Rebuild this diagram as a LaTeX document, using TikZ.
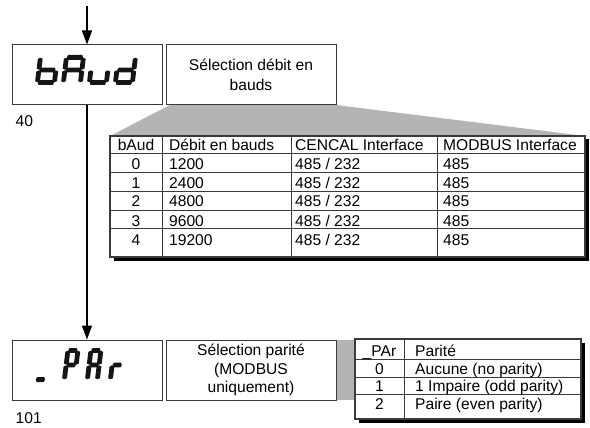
\documentclass[tikz,border=0pt]{standalone}
\usepackage{fontspec}
\setmainfont{Liberation Sans}
\usetikzlibrary{arrows.meta}
\definecolor{linegray}{HTML}{3A3A3A}
\definecolor{fillgray}{HTML}{B4B4B4}
\definecolor{segcol}{HTML}{151515}
% seven-segment parameters: width, height, thickness, gap, tip depth, slant, origin
\def\segW{17}\def\segH{25.2}\def\segT{4.8}\def\segGap{0.35}\def\segK{1.1}\def\segS{0.12}
\def\gx{0}\def\gy{0}
% horizontal segment from x1 to x2 at height u (u measured upwards from the glyph origin)
\newcommand{\hseg}[3]{\fill[segcol]
 ({\gx+(#1)+\segGap+\segS*(#3)},{\gy-(#3)}) --
 ({\gx+(#1)+\segGap+\segK+\segS*((#3)+\segT/2)},{\gy-(#3)-\segT/2}) --
 ({\gx+(#2)-\segGap-\segK+\segS*((#3)+\segT/2)},{\gy-(#3)-\segT/2}) --
 ({\gx+(#2)-\segGap+\segS*(#3)},{\gy-(#3)}) --
 ({\gx+(#2)-\segGap-\segK+\segS*((#3)-\segT/2)},{\gy-(#3)+\segT/2}) --
 ({\gx+(#1)+\segGap+\segK+\segS*((#3)-\segT/2)},{\gy-(#3)+\segT/2}) -- cycle;}
% vertical segment at x from u1 to u2
\newcommand{\vseg}[3]{\fill[segcol]
 ({\gx+(#1)+\segS*((#2)+\segGap)},{\gy-(#2)-\segGap}) --
 ({\gx+(#1)+\segT/2+\segS*((#2)+\segGap+\segK)},{\gy-(#2)-\segGap-\segK}) --
 ({\gx+(#1)+\segT/2+\segS*((#3)-\segGap-\segK)},{\gy-(#3)+\segGap+\segK}) --
 ({\gx+(#1)+\segS*((#3)-\segGap)},{\gy-(#3)+\segGap}) --
 ({\gx+(#1)-\segT/2+\segS*((#3)-\segGap-\segK)},{\gy-(#3)+\segGap+\segK}) --
 ({\gx+(#1)-\segT/2+\segS*((#2)+\segGap+\segK)},{\gy-(#2)-\segGap-\segK}) -- cycle;}
\newcommand\segA{\hseg{0}{\segW}{\segH}}
\newcommand\segB{\vseg{\segW}{\segH/2}{\segH}}
\newcommand\segC{\vseg{\segW}{0}{\segH/2}}
\newcommand\segD{\hseg{0}{\segW}{0}}
\newcommand\segE{\vseg{0}{0}{\segH/2}}
\newcommand\segF{\vseg{0}{\segH/2}{\segH}}
\newcommand\segG{\hseg{0}{\segW}{\segH/2}}
\newcommand\glyphB{\segC\segD\segE\segF\segG}
\newcommand\glyphA{\segA\segB\segC\segE\segF\segG}
\newcommand\glyphU{\segC\segD\segE}
\newcommand\glyphD{\segB\segC\segD\segE\segG}
\newcommand\glyphUnd{\segD}
\newcommand\glyphP{\segA\segB\segE\segF\segG}
\newcommand\glyphR{\segE\segG}
\newcommand\sevenseg[3]{\def\gx{#1}\def\gy{#2}#3}
\begin{document}
\begin{tikzpicture}[x=1pt,y=-1pt,
  tx/.style={font=\fontsize{15.6}{18.7}\selectfont, inner sep=0pt},
  dispbox/.style={draw=linegray, line width=1pt, fill=white, inner sep=0pt, minimum width=150pt, minimum height=60pt},
  descbox/.style={draw=linegray, line width=1pt, fill=white, inner sep=0pt, minimum width=170pt, minimum height=60pt, align=center},
  flow/.style={line width=1.4pt, black, -{Triangle[length=14pt,width=10pt]}},
  tabframe/.style={draw=linegray, line width=1.1pt, fill=white},
  tabline/.style={draw=linegray, line width=0.9pt},
  shadowfill/.style={fill=black}]
\useasboundingbox (0,0) rectangle (590,428);
% gray connector shapes
\fill[fillgray] (170,105) -- (110,136) -- (585,136) -- (336,105) -- cycle;
\fill[fillgray] (336,340) rectangle (355,400);
% boxes
\node[dispbox] (disp1) at (87,75) {};
\node[descbox, font=\fontsize{15.6}{20}\selectfont] (desc1) at (251,75) {Sélection débit en\\bauds};
\node[dispbox] (disp2) at (87,370) {};
\node[descbox, font=\fontsize{15.6}{18.5}\selectfont] (desc2) at (251,370) {Sélection parité\\(MODBUS\\uniquement)};
% arrows
\coordinate (start) at (87,6);
\draw[flow] (start) -- (disp1.north);
\draw[flow] (disp1.south) -- (disp2.north);
% seven segment displays
\sevenseg{37.4}{82.6}{\glyphB}
\sevenseg{63.4}{82.6}{\glyphA}
\sevenseg{89.4}{82.6}{\glyphU}
\sevenseg{115.4}{82.6}{\glyphD}
\def\segW{10}\def\segH{29.2}
\sevenseg{35.4}{379.6}{\glyphUnd}
\sevenseg{64.4}{379.6}{\glyphP}
\sevenseg{87.4}{379.6}{\glyphA}
\sevenseg{110.4}{379.6}{\glyphR}
% labels
\node[tx, anchor=base west] (lab40) at (15.5,126.5) {40};
\node[tx, anchor=base west] (lab101) at (15.5,423.5) {101};
% table 1
\fill[shadowfill] (113.5,139.5) rectangle (588.5,260.5);
\path[tabframe] (110,136) rectangle (585,257);
\foreach \xx in {162,291,437} \draw[tabline] (\xx,136) -- (\xx,257);
\foreach \yy in {153,172,191,210,228} \draw[tabline] (110,\yy) -- (585,\yy);
\node[tx, anchor=base] (h1) at (136,150) {bAud};
\node[tx, anchor=base west] (h2) at (169,150) {Débit en bauds};
\node[tx, anchor=base west] (h3) at (295,150) {CENCAL Interface};
\node[tx, anchor=base west] (h4) at (443,150) {MODBUS Interface};
\foreach \n/\rate/\yy in {0/1200/169,1/2400/188,2/4800/207,3/9600/226,4/19200/245}{
  \node[tx, anchor=base] (ra\n) at (136,\yy) {\n};
  \node[tx, anchor=base west] (rb\n) at (169,\yy) {\rate};
  \node[tx, anchor=base west] (rc\n) at (295,\yy) {485 / 232};
  \node[tx, anchor=base west] (rd\n) at (443,\yy) {485};
}
% table 2
\fill[shadowfill] (359,343) rectangle (585,423);
\path[tabframe] (355,339) rectangle (581,419);
\draw[tabline] (404,339) -- (404,419);
\foreach \yy in {359,377,394} \draw[tabline] (355,\yy) -- (581,\yy);
\node[tx, anchor=base] (p1) at (379.5,356.5) {\_PAr};
\node[tx, anchor=base west] (p2) at (415,356.5) {Parité};
\node[tx, anchor=base] (pa0) at (379.5,374) {0};
\node[tx, anchor=base west] (pb0) at (415,374) {Aucune (no parity)};
\node[tx, anchor=base] (pa1) at (379.5,391.5) {1};
\node[tx, anchor=base west] (pb1) at (415,391.5) {1 Impaire (odd parity)};
\node[tx, anchor=base] (pa2) at (379.5,409) {2};
\node[tx, anchor=base west] (pb2) at (415,409) {Paire (even parity)};
\end{tikzpicture}
\end{document}
